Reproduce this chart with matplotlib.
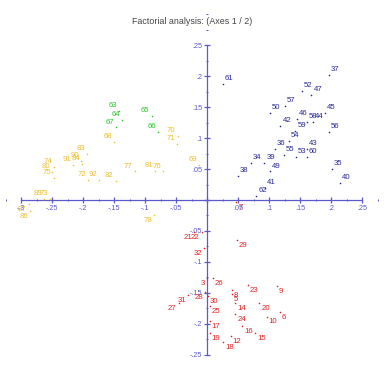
import matplotlib
matplotlib.use("Agg")
import matplotlib.pyplot as plt
from matplotlib.ticker import MultipleLocator, FuncFormatter

# ==========================================
# data (axis 1, axis 2 coordinates)
# ==========================================
blue_labels = ["61", "37", "52", "47", "57", "50", "46", "58", "44", "45", "42", "59",
               "56", "54", "36", "55", "53", "60", "43", "34", "39", "49", "38", "35",
               "40", "62", "41"]
blue_x = [0.025, 0.196, 0.153, 0.168, 0.125, 0.101, 0.145, 0.160, 0.171, 0.190, 0.118, 0.142,
          0.196, 0.132, 0.109, 0.124, 0.143, 0.161, 0.161, 0.070, 0.092, 0.101, 0.049, 0.201,
          0.214, 0.079, 0.093]
blue_y = [0.187, 0.202, 0.176, 0.169, 0.152, 0.140, 0.130, 0.126, 0.126, 0.140, 0.120, 0.112,
          0.109, 0.095, 0.083, 0.072, 0.070, 0.070, 0.082, 0.059, 0.060, 0.046, 0.038, 0.050,
          0.028, 0.007, 0.019]

green_labels = ["63", "64", "65", "67", "66"]
green_x = [-0.142, -0.137, -0.090, -0.147, -0.080]
green_y = [0.144, 0.129, 0.136, 0.117, 0.109]

yellow_labels = ["70", "71", "68", "69", "77", "81", "76", "82", "83", "90", "91", "84",
                 "74", "80", "75", "72", "92", "89", "73", "87", "86", "78"]
yellow_x = [-0.048, -0.049, -0.151, -0.013, -0.117, -0.084, -0.071, -0.148, -0.194, -0.204,
            -0.216, -0.202, -0.247, -0.251, -0.248, -0.192, -0.175, -0.263, -0.254, -0.288,
            -0.286, -0.086]
yellow_y = [0.104, 0.091, 0.094, 0.056, 0.046, 0.047, 0.046, 0.030, 0.074, 0.063, 0.056,
            0.058, 0.053, 0.045, 0.036, 0.033, 0.032, 0.002, 0.001, -0.006, -0.018, -0.024]

red_labels = ["7", "29", "21", "22", "32", "3", "26", "23", "9", "28", "31", "27", "30",
              "25", "17", "19", "8", "5", "14", "24", "16", "12", "18", "15", "20", "10", "6"]
red_x = [0.047, 0.048, -0.021, -0.009, -0.005, -0.001, 0.009, 0.065, 0.112, -0.004, -0.031,
         -0.046, 0.001, 0.004, 0.004, 0.004, 0.040, 0.040, 0.045, 0.045, 0.056, 0.038, 0.026,
         0.077, 0.084, 0.096, 0.117]
red_y = [-0.004, -0.064, -0.052, -0.052, -0.077, -0.126, -0.126, -0.137, -0.139, -0.148,
         -0.153, -0.166, -0.155, -0.171, -0.195, -0.215, -0.145, -0.152, -0.166, -0.184,
         -0.203, -0.219, -0.229, -0.215, -0.166, -0.188, -0.180]

TITLE = "Factorial analysis: (Axes 1 / 2)"
AXIS_COLOR = "#5a5ac8"
GROUPS = [
    (blue_labels, blue_x, blue_y, "#26269a"),
    (green_labels, green_x, green_y, "#28c828"),
    (yellow_labels, yellow_x, yellow_y, "#eebf2c"),
    (red_labels, red_x, red_y, "#e02020"),
]


def short_fmt(v, pos):
    # ".25" / "-.2" style, no label at 0
    if abs(v) < 1e-9:
        return ""
    s = f"{v:.3f}".rstrip("0")
    return s.replace("0.", ".")


fig = plt.figure(figsize=(3.84, 3.69), dpi=100)
ax = fig.add_axes([0, 0, 1, 1])
ax.set_xlim(-0.3344, 0.285)
ax.set_ylim(-0.2726, 0.3226)

for side in ["top", "right"]:
    ax.spines[side].set_visible(False)
for side in ["left", "bottom"]:
    ax.spines[side].set_position(("data", 0))
    ax.spines[side].set_color(AXIS_COLOR)
    ax.spines[side].set_linewidth(0.9)
ax.spines["bottom"].set_bounds(-0.3, 0.25)
ax.spines["left"].set_bounds(-0.25, 0.25)

ax.set_xticks([-0.3, -0.25, -0.2, -0.15, -0.1, -0.05, 0, 0.05, 0.1, 0.15, 0.2, 0.25])
ax.set_yticks([-0.25, -0.2, -0.15, -0.1, -0.05, 0, 0.05, 0.1, 0.15, 0.2, 0.25])
ax.xaxis.set_minor_locator(MultipleLocator(0.025))
ax.yaxis.set_minor_locator(MultipleLocator(0.025))
ax.xaxis.set_major_formatter(FuncFormatter(short_fmt))
ax.yaxis.set_major_formatter(FuncFormatter(short_fmt))
ax.tick_params(which="major", direction="inout", length=4, width=0.9, colors=AXIS_COLOR,
               labelsize=5.2, pad=1.5)
ax.tick_params(which="minor", direction="inout", length=2, width=0.7, colors=AXIS_COLOR)
for t in ax.get_xticklabels() + ax.get_yticklabels():
    t.set_fontfamily("Liberation Sans")

for labels, xs, ys, color in GROUPS:
    ax.scatter(xs, ys, s=1.3, color=color, linewidths=0, zorder=3)
    for lab, x, y in zip(labels, xs, ys):
        ha = "left" if x >= 0 else "right"
        va = "bottom" if y >= 0 else "top"
        dx = 1.4 if x >= 0 else -1.4
        dy = 1.4 if y >= 0 else -1.4
        ax.annotate(lab, (x, y), xytext=(dx, dy), textcoords="offset points",
                    ha=ha, va=va, fontsize=5.6, color=color, family="Liberation Sans", zorder=4)

fig.text(0.5, 0.943, TITLE, ha="center", va="center", fontsize=6.4, color="#444444",
         family="Liberation Sans")

fig.savefig("out.png", dpi=100)
